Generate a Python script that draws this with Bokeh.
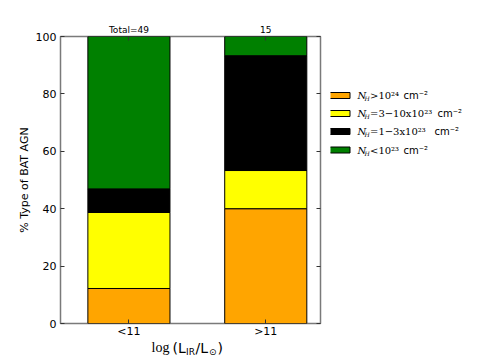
from bokeh.plotting import figure
from bokeh.models import (LinearAxis, FixedTicker, Range1d)
from bokeh.layouts import row, column
from bokeh.embed import file_html
from bokeh.resources import INLINE
from bokeh.core.properties import value

# ---- data ----
groups = ["<11", ">11"]
totals = ["Total=49", "15"]
series_names = ["nh24", "nh3_10", "nh1_3", "nh_lt23"]
nh24 = [12.2, 40.0]       # N_H > 1e24
nh3_10 = [26.5, 13.3]     # N_H = 3-10 x 1e23
nh1_3 = [8.2, 40.0]       # N_H = 1-3 x 1e23
nh_lt23 = [53.1, 6.7]     # N_H < 1e23
colors = ["#FFA500", "#FFFF00", "#000000", "#008000"]
legend_math = [" >10\u00b2\u2074", " =3\u221210x10\u00b2\u00b3", " =1\u22123x10\u00b2\u00b3", " <10\u00b2\u00b3"]
yticks = [0, 20, 40, 60, 80, 100]

xpos = list(range(len(groups)))
source = dict(x=xpos, nh24=nh24, nh3_10=nh3_10, nh1_3=nh1_3, nh_lt23=nh_lt23)

FRAME_L, FRAME_T, FRAME_W, FRAME_H = 60, 36, 260, 287
RIGHT = 10
BOTTOM = 15
MAIN_W = FRAME_L + FRAME_W + RIGHT
MAIN_H = FRAME_T + FRAME_H + BOTTOM
XLAB_H = 18
TOTAL_W = 470

p = figure(frame_width=FRAME_W, frame_height=FRAME_H,
           min_border_left=FRAME_L, min_border_top=FRAME_T,
           min_border_bottom=BOTTOM, min_border_right=RIGHT,
           x_range=Range1d(-0.5, 1.4), y_range=Range1d(0, 100),
           output_backend="svg", toolbar_location=None, x_axis_location=None,
           y_axis_location=None)
p.grid.visible = False
p.outline_line_color = "#7a7a7a"
p.outline_line_width = 1.5
p.background_fill_color = "white"
p.border_fill_color = "white"

p.vbar_stack(series_names, x="x", width=0.6, color=colors, line_color="black",
             line_width=1, source=source)

def style_axis(ax, size):
    ax.axis_line_color = None
    ax.major_tick_in = 4
    ax.major_tick_out = 0
    ax.minor_tick_line_color = None
    ax.major_tick_line_color = "#333333"
    ax.major_label_text_font = "DejaVu Sans"
    ax.major_label_text_font_size = size
    ax.major_label_text_color = "black"

bottom = LinearAxis(ticker=FixedTicker(ticks=xpos),
                    major_label_overrides={i: g for i, g in enumerate(groups)})
style_axis(bottom, "11px")
bottom.major_label_standoff = 1
p.add_layout(bottom, "below")

top = LinearAxis(ticker=FixedTicker(ticks=xpos),
                 major_label_overrides={i: t for i, t in enumerate(totals)})
style_axis(top, "9px")
top.major_label_standoff = 2
p.add_layout(top, "above")

left = LinearAxis(ticker=FixedTicker(ticks=yticks))
style_axis(left, "11px")
left.major_label_standoff = 4
left.axis_label = "% Type of BAT AGN"
left.axis_label_text_font = "DejaVu Sans"
left.axis_label_text_font_style = "normal"
left.axis_label_text_font_size = "11px"
left.axis_label_text_color = "black"
left.axis_label_standoff = 2
p.add_layout(left, "left")

right = LinearAxis(ticker=FixedTicker(ticks=yticks),
                   major_label_overrides={t: "" for t in yticks})
style_axis(right, "11px")
right.major_label_standoff = 0
p.add_layout(right, "right")

# ---- x-axis label strip (shares the main x range; y in picture pixels) ----
xl = figure(frame_width=FRAME_W, frame_height=XLAB_H,
            min_border_left=FRAME_L, min_border_right=RIGHT,
            min_border_top=0, min_border_bottom=0,
            x_range=p.x_range, y_range=Range1d(MAIN_H + XLAB_H, MAIN_H),
            output_backend="svg", toolbar_location=None,
            x_axis_location=None, y_axis_location=None)
xl.grid.visible = False
xl.outline_line_color = None
xl.background_fill_color = "white"
xl.border_fill_color = "white"

def dx(px):
    return -0.5 + (px - FRAME_L) / FRAME_W * 1.9

xlabel_parts = [
    ("log", 151, 345, "14px", "Liberation Serif"),
    ("(L", 172, 345, "14px", "DejaVu Sans"),
    ("IR", 185.5, 349.5, "9px", "DejaVu Sans"),
    ("/L", 195, 345, "14px", "DejaVu Sans"),
    ("\u2299", 208.5, 349.5, "9px", "DejaVu Sans"),
    (")", 217, 345, "14px", "DejaVu Sans"),
]
for t, px, py, fs, font in xlabel_parts:
    xl.text(x=[dx(px)], y=[py], text=[t], text_font=value(font),
            text_font_size=fs, text_baseline="middle", text_align="left",
            text_color="black")

# ---- legend figure (same vertical frame as the main plot) ----
LEG_W = TOTAL_W - MAIN_W
leg = figure(frame_width=LEG_W, frame_height=FRAME_H,
             min_border_left=0, min_border_right=0,
             min_border_top=FRAME_T, min_border_bottom=BOTTOM,
             x_range=Range1d(MAIN_W, MAIN_W + LEG_W),
             y_range=Range1d(FRAME_T + FRAME_H, FRAME_T),
             output_backend="svg", toolbar_location=None,
             x_axis_location=None, y_axis_location=None)
leg.grid.visible = False
leg.outline_line_color = None
leg.background_fill_color = "white"
leg.border_fill_color = "white"

rows_y = [95, 113, 131, 149.5]
cm_x = [403, 437, 434, 403]
leg.quad(left=[328.5] * 4, right=[349.5] * 4, top=[y - 3 for y in rows_y],
         bottom=[y + 3 for y in rows_y], fill_color=colors, line_color="black",
         line_width=1)
leg.text(x=[357] * 4, y=rows_y, text=["N"] * 4, text_font=value("DejaVu Serif"),
         text_font_style="italic", text_font_size="10px", text_baseline="middle")
leg.text(x=[364] * 4, y=[y + 3 for y in rows_y], text=["H"] * 4,
         text_font=value("DejaVu Serif"), text_font_style="italic",
         text_font_size="6px", text_baseline="middle")
leg.text(x=[369.5] * 4, y=rows_y, text=legend_math, text_font=value("DejaVu Serif"),
         text_font_size="10px", text_baseline="middle")
leg.text(x=cm_x, y=rows_y, text=["cm\u207b\u00b2"] * 4, text_font=value("DejaVu Sans"),
         text_font_size="10px", text_baseline="middle")

layout = column(row(p, leg, spacing=0), xl, spacing=0)
open("out.html", "w").write(file_html(layout, INLINE))
